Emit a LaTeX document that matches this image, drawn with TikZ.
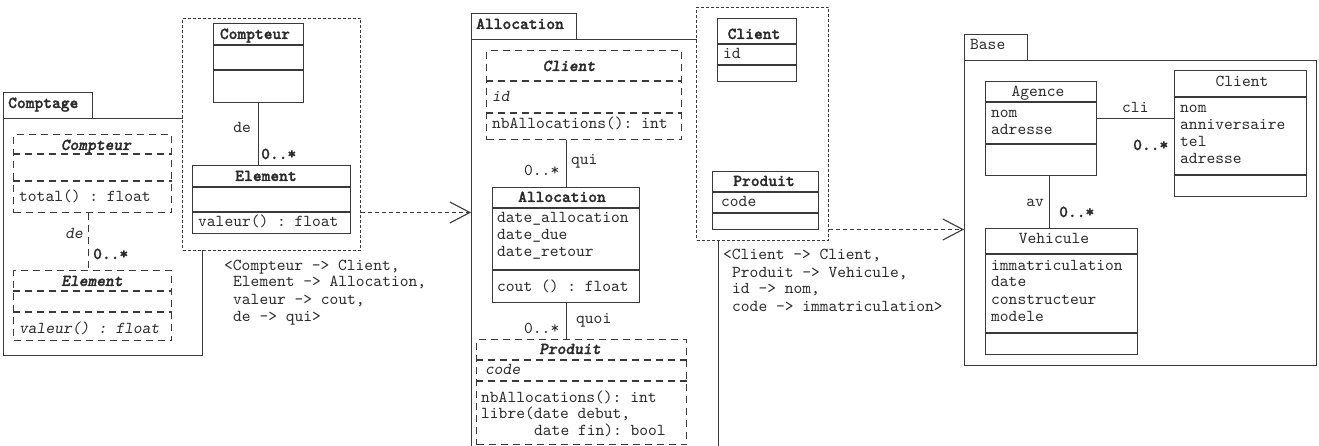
\documentclass[tikz,border=0pt]{standalone}
\usepackage{fontspec}
\setmonofont{lmmono10-regular.otf}[
  ItalicFont=lmmonoslant10-regular.otf,
  BoldFont=lmmonolt10-bold.otf,
  BoldFeatures={FakeBold=1.5},
  BoldItalicFont=lmmonolt10-boldoblique.otf,
  BoldItalicFeatures={FakeBold=1.5}]
\usepackage{tikz}
\usetikzlibrary{arrows.meta}
\definecolor{ink}{HTML}{2B2B2B}
\definecolor{rule}{HTML}{3A3A3A}
\newcommand{\umlfont}{\ttfamily\fontsize{16.7}{17}\selectfont}
\tikzset{
  cls/.style={draw=rule, line width=1.1pt, fill=white, inner sep=0pt, anchor=north west},
  abscls/.style={cls, dash pattern=on 7pt off 5pt},
  tmplbox/.style={draw=rule, line width=1pt, fill=white, inner sep=0pt, anchor=north west, dash pattern=on 3pt off 2pt},
  pkg/.style={draw=rule, line width=1.1pt, fill=white, inner sep=0pt, anchor=north west},
  sep/.style={draw=rule, line width=1.1pt},
  abssep/.style={sep, dash pattern=on 7pt off 5pt},
  assoc/.style={draw=rule, line width=1.1pt},
  absassoc/.style={assoc, dash pattern=on 7pt off 5pt},
  depends/.style={draw=rule, line width=1pt, dash pattern=on 4pt off 3pt, -{Straight Barb[length=20pt, width=21pt, line width=1.1pt]}},
  txt/.style={font=\umlfont, text=ink, inner sep=0pt, anchor=base west},
  ttl/.style={txt, anchor=base, font=\umlfont\bfseries},
  absttl/.style={txt, anchor=base, font=\umlfont\bfseries\itshape},
  plainttl/.style={txt, anchor=base},
  itxt/.style={txt, font=\umlfont\itshape},
  btxt/.style={txt, font=\umlfont\bfseries},
}

\begin{document}
\begin{tikzpicture}[x=1pt, y=-1pt]
  \path[use as bounding box, clip] (0,0) rectangle (1319,446);

  % Comptage package
  \node[pkg, minimum width=89, minimum height=26] (comptagetab) at (3,92) {};
  \node[pkg, minimum width=199, minimum height=237] (comptage) at (3,118) {};
  \node[btxt] (comptagename) at (8,108) {Comptage};
  \node[abscls, minimum width=158, minimum height=78] (acompteur) at (13,134) {};
  \node[abscls, minimum width=158, minimum height=70] (aelement) at (13,270) {};
  \node[absttl] (acompteurname) at (96,150) {Compteur};
  \node[txt] (acompteurop) at (19,202) {total() : float};
  \node[absttl] (aelementname) at (92,286) {Element};
  \node[itxt] (aelementop) at (19,333) {valeur() : float};
  \draw[absassoc] ([xshift=-4pt]acompteur.south) -- ([xshift=-4pt]acompteur.south |- aelement.north);
  \node[itxt, anchor=base east] (ade) at (83,239) {de};
  \node[btxt] (amult) at (93,259) {0..*};

  % first template
  \node[tmplbox, minimum width=178, minimum height=232] (tmpla) at (182,18) {};
  \node[cls, minimum width=90, minimum height=79] (tcompteur) at (213,23) {};
  \node[cls, minimum width=158, minimum height=68] (telement) at (192,165) {};
  \node[ttl] (tcompteurname) at (255,39) {Compteur};
  \node[ttl] (telementname) at (266,181) {Element};
  \node[txt] (telementop) at (198,227) {valeur() : float};
  \draw[assoc] (tcompteur.south) -- (tcompteur.south |- telement.north);
  \node[txt, anchor=base east] (tde) at (251,133) {de};
  \node[btxt] (tmult) at (261,159) {0..*};
  \node[txt] (bindaone) at (224,270) {<Compteur -> Client,};
  \foreach \t [count=\i] in {{Element -> Allocation,}, {valeur -> cout,}, {de -> qui>}}
    \node[txt] (binda\i) at (233,270+17*\i) {\t};

  % Allocation package
  \node[pkg, minimum width=105, minimum height=26] (alloctab) at (471,13) {};
  \node[pkg, minimum width=247, minimum height=440] (allocpkg) at (471,39) {};
  \node[btxt] (allocpkgname) at (476,29) {Allocation};
  \node[abscls, minimum width=195, minimum height=89] (aclient) at (486,50) {};
  \node[cls, minimum width=147, minimum height=115] (allocation) at (492,187) {};
  \node[abscls, minimum width=210, minimum height=105] (aproduit) at (476,339) {};
  \node[absttl] (aclientname) at (569,71) {Client};
  \node[itxt] (aclientid) at (492,102) {id};
  \node[txt] (aclientop) at (492,129) {nbAllocations(): int};
  \node[ttl] (allocationname) at (562,202) {Allocation};
  \foreach \t [count=\i from 0] in {date\_allocation, date\_due, date\_retour}
    \node[txt] (allocattr\i) at (497,223+17*\i) {\t};
  \node[txt] (allocop) at (497,291) {cout () : float};
  \node[absttl] (aproduitname) at (570,354) {Produit};
  \node[itxt] (aproduitcode) at (485,374) {code};
  \node[txt] (aproduitopa) at (481,402) {nbAllocations(): int};
  \node[txt] (aproduitopb) at (481,418) {libre(date debut,};
  \node[txt] (aproduitopc) at (534,435) {date fin): bool};
  \draw[assoc] (allocation.north) -- (allocation.north |- aclient.south);
  \node[txt] (qui) at (571,165) {qui};
  \node[txt] (quimult) at (524,176) {0..*};
  \draw[assoc] (allocation.south) -- (allocation.south |- aproduit.north);
  \node[txt] (quoi) at (576,323) {quoi};
  \node[txt] (quoimult) at (524,333) {0..*};

  % second template
  \node[tmplbox, minimum width=132, minimum height=233] (tmplb) at (696,7) {};
  \node[cls, minimum width=79, minimum height=63] (tclient) at (717,18) {};
  \node[cls, minimum width=106, minimum height=58] (tproduit) at (712,171) {};
  \node[ttl] (tclientname) at (754,39) {Client};
  \node[txt] (tclientid) at (723,59) {id};
  \node[ttl] (tproduitname) at (764,186) {Produit};
  \node[txt] (tproduitcode) at (721,207) {code};
  \node[txt] (bindbone) at (723,260) {<Client -> Client,};
  \foreach \t [count=\i] in {{Produit -> Vehicule,}, {id -> nom,}, {code -> immatriculation>}}
    \node[txt] (bindb\i) at (732,260+17*\i) {\t};

  % Base package
  \node[pkg, minimum width=63, minimum height=26] (basetab) at (964,34) {};
  \node[pkg, minimum width=352, minimum height=305] (basepkg) at (964,60) {};
  \node[txt] (basename) at (970,50) {Base};
  \node[cls, minimum width=111, minimum height=94] (agence) at (985,81) {};
  \node[cls, minimum width=132, minimum height=126] (bclient) at (1174,70) {};
  \node[cls, minimum width=152, minimum height=126] (vehicule) at (985,228) {};
  \node[plainttl] (agencename) at (1038,97) {Agence};
  \foreach \t [count=\i from 0] in {nom, adresse}
    \node[txt] (agenceattr\i) at (991,118+17*\i) {\t};
  \node[plainttl] (bclientname) at (1242,87) {Client};
  \foreach \t [count=\i from 0] in {nom, anniversaire, tel, adresse}
    \node[txt] (bclientattr\i) at (1180,113+17*\i) {\t};
  \node[plainttl] (vehiculename) at (1054,244) {Vehicule};
  \foreach \t [count=\i from 0] in {immatriculation, date, constructeur, modele}
    \node[txt] (vehiculeattr\i) at (991,270+17*\i) {\t};
  \draw[assoc] ([yshift=10pt]agence.east) -- ([yshift=10pt]agence.east -| bclient.west);
  \node[txt] (cli) at (1122,113) {cli};
  \node[btxt] (climult) at (1133,150) {0..*};
  \draw[assoc] ([xshift=8pt]agence.south) -- ([xshift=8pt]agence.south |- vehicule.north);
  \node[txt, anchor=base east] (av) at (1044,207) {av};
  \node[btxt] (avmult) at (1059,217) {0..*};

  % compartments
  \foreach \c/\y in {tcompteur/45, tcompteur/70, telement/187, telement/212,
      allocation/208, allocation/270, tclient/44, tclient/65, tproduit/192, tproduit/213,
      agence/102, agence/144, bclient/97, bclient/175, vehicule/254, vehicule/333}
    \draw[sep] (\c.west |- 0,\y) -- (\c.east |- 0,\y);
  \foreach \c/\y in {acompteur/154, acompteur/181, aelement/291, aelement/312,
      aclient/81, aclient/113, aproduit/360, aproduit/381}
    \draw[abssep] (\c.west |- 0,\y) -- (\c.east |- 0,\y);

  % bindings
  \draw[depends] ([yshift=-78pt]tmpla.east) -- ([yshift=-78pt]tmpla.east -| allocpkg.west);
  \draw[depends] ([yshift=-105.5pt]tmplb.east) -- ([yshift=-105.5pt]tmplb.east -| basepkg.west);
\end{tikzpicture}
\end{document}
